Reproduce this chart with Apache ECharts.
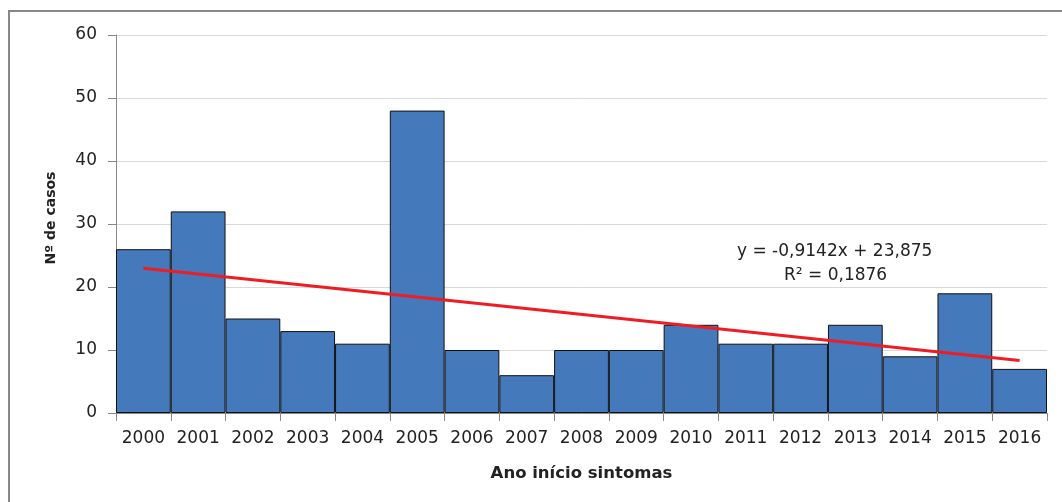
<!DOCTYPE html>
<html><head><meta charset="utf-8">
<script src="https://cdn.jsdelivr.net/npm/echarts@6/dist/echarts.min.js"></script>
<style>html,body{margin:0;padding:0;background:#fff}#c{width:1062px;height:502px}</style>
</head><body><div id="c"></div>
<script>
const years = ['2000','2001','2002','2003','2004','2005','2006','2007','2008','2009','2010','2011','2012','2013','2014','2015','2016'];
const cases = [26,32,15,13,11,48,10,6,10,10,14,11,11,14,9,19,7];
const trendStart = 22.96;
const trendEnd = 8.33;
const trendLabel1 = 'y = -0,9142x + 23,875';
const trendLabel2 = 'R² = 0,1876';
const yTicks = {min:0, max:60, interval:10};

const trend = years.map((y,i)=> i===0 ? trendStart : (i===years.length-1 ? trendEnd : null));
const F = 'DejaVu Sans';
const chart = echarts.init(document.getElementById('c'));
chart.setOption({
  animation:false,
  grid:{left:116, right:15, top:35, bottom:89},
  graphic:[
    {type:'rect', shape:{x:9,y:11,width:1070,height:520}, style:{fill:'none', stroke:'#878787', lineWidth:2}, silent:true},
    {type:'text', left:737, top:243, style:{text:trendLabel1, font:'17px "DejaVu Sans"', fill:'#222'}},
    {type:'text', left:784, top:267, style:{text:trendLabel2, font:'17px "DejaVu Sans"', fill:'#222'}}
  ],
  xAxis:{
    type:'category', data:years,
    name:'Ano início sintomas', nameLocation:'middle', nameGap:52,
    nameTextStyle:{fontFamily:F, fontWeight:'bold', fontSize:16.5, color:'#222'},
    axisLine:{lineStyle:{color:'#888', width:1}},
    axisTick:{show:true, alignWithLabel:false, length:8, lineStyle:{color:'#888'}},
    axisLabel:{fontFamily:F, fontSize:17, color:'#222', margin:17, interval:0}
  },
  yAxis:{
    type:'value', min:yTicks.min, max:yTicks.max, interval:yTicks.interval,
    name:'Nº de casos', nameLocation:'middle', nameGap:58,
    nameTextStyle:{fontFamily:F, fontWeight:'bold', fontSize:14, color:'#222', padding:[0,0,0,12]},
    axisLine:{show:true, lineStyle:{color:'#888', width:1}},
    axisTick:{show:true, length:8, lineStyle:{color:'#888'}},
    splitLine:{lineStyle:{color:'#d9d9d9', width:1}},
    axisLabel:{fontFamily:F, fontSize:17, color:'#222', margin:19}
  },
  series:[
    {type:'bar', data:cases, barCategoryGap:'0%',
     itemStyle:{color:'#4479bb', borderColor:'#111', borderWidth:1}},
    {type:'line', data:trend, connectNulls:true, symbol:'none',
     lineStyle:{color:'#ee1c25', width:3}, z:5}
  ]
});
</script></body></html>
